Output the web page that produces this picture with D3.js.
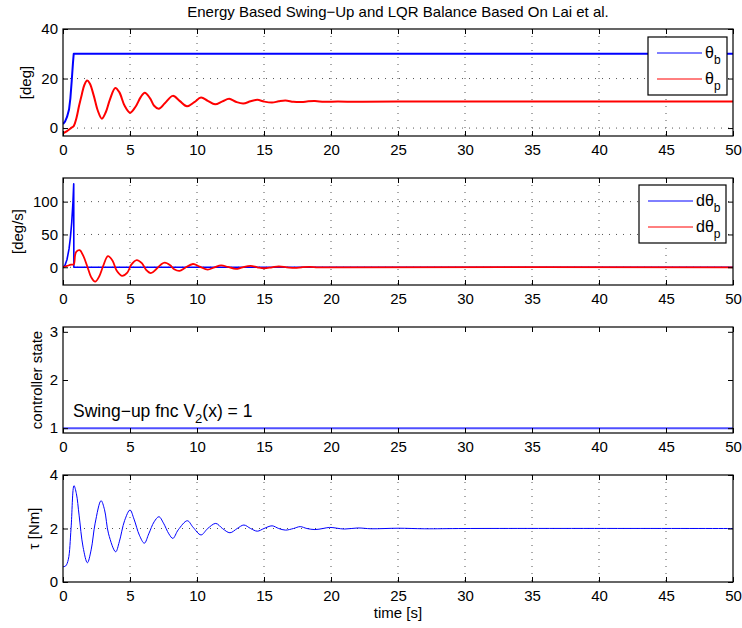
<!DOCTYPE html>
<html>
<head>
<meta charset="utf-8">
<script src="https://cdn.jsdelivr.net/npm/d3@7"></script>
<style>
  body { margin: 0; background: #fff; }
  text { font-family: "Liberation Sans", Arial, Helvetica, sans-serif; fill: #000; }
</style>
</head>
<body>
<svg id="chart" width="742" height="628"></svg>
<script>
// time axis ticks (shared by all four panels)
const timeTicks = [0, 5, 10, 15, 20, 25, 30, 35, 40, 45, 50];

// panel 1: angles [deg]
const thetaB = [[0,1.6],[0.15,2.6],[0.3,4.5],[0.45,7.5],[0.55,12],[0.65,19],[0.74,26],[0.8,30],[50,30]];
const thetaP = [[0,-2.1],[0.3,-1.2],[0.6,0],[0.8,0.8],[1.0,4],[1.2,9],[1.4,13.5],[1.6,17.5],[1.8,19.2],
  [2.0,18],[2.3,13],[2.6,7],[2.9,3.8],[3.2,6.5],[3.5,11.5],[3.9,16.2],[4.2,14.5],[4.6,9],[5.0,6.2],
  [5.4,8.5],[5.8,12.5],[6.1,14.3],[6.5,12],[6.8,9],[7.15,7.8],[7.6,10],[8.2,13],[8.7,11],[9.25,8.8],
  [9.8,10.5],[10.3,12.3],[10.8,11],[11.35,9.6],[11.9,10.8],[12.4,11.8],[12.9,10.6],[13.45,9.9],
  [14.0,10.8],[14.5,11.4],[15.0,10.7],[15.6,10.3],[16.1,10.8],[16.6,11.1],[17.2,10.6],[17.8,10.5],
  [18.3,10.8],[18.8,10.9],[19.5,10.6],[20.5,10.7],[22,10.6],[25,10.7],[50,10.7]];

// panel 2: angular rates [deg/s]
const dThetaB = [[0,0],[0.15,3],[0.3,12],[0.45,28],[0.55,45],[0.65,68],[0.74,98],[0.8,127],[0.81,0],[50,0]];
const dThetaP = [[0,0],[0.3,2],[0.6,4],[0.8,4.5],[0.9,18],[1.0,24],[1.25,26],[1.5,18],[1.8,2],[2.1,-15],
  [2.4,-22],[2.7,-14],[3.0,2],[3.35,17],[3.7,10],[4.0,-5],[4.4,-13],[4.8,-8],[5.1,4],[5.5,11],[5.9,6],
  [6.2,-4],[6.55,-9],[6.95,-3],[7.3,4],[7.6,7],[8.0,3],[8.3,-3],[8.7,-5.5],[9.1,-1],[9.7,5],[10.2,1],
  [10.8,-3.5],[11.3,0],[11.8,3],[12.3,0.5],[12.9,-2.5],[13.4,0],[14,2],[14.5,0],[15,-1.5],[15.6,0],
  [16.1,1.2],[16.7,0],[17.3,-1],[17.8,0],[18.4,0.7],[19,0],[20,-0.3],[21,0],[50,0]];

// panel 3: controller state
const ctrlState = [[0,1],[50,1]];

// panel 4: torque [Nm]
const tau = [[0,0.57],[0.2,0.6],[0.4,0.85],[0.6,2.0],[0.82,3.6],[1.0,3.3],[1.2,2.5],[1.5,1.3],[1.82,0.72],
  [2.1,1.2],[2.4,2.2],[2.84,3.04],[3.1,2.7],[3.4,1.8],[3.93,1.13],[4.2,1.5],[4.6,2.3],[5.0,2.69],
  [5.3,2.35],[5.7,1.75],[6.07,1.45],[6.4,1.8],[6.8,2.25],[7.16,2.44],[7.5,2.2],[7.9,1.8],[8.2,1.63],
  [8.6,1.95],[9.28,2.29],[9.7,2.05],[10.3,1.76],[10.8,2.0],[11.4,2.19],[11.9,2.0],[12.46,1.84],
  [13.0,2.0],[13.5,2.13],[14.0,2.0],[14.5,1.9],[15.0,2.0],[15.6,2.1],[16.1,2.0],[16.6,1.94],[17.2,2.0],
  [17.7,2.07],[18.2,2.0],[18.8,1.96],[19.4,2.0],[19.9,2.04],[21,1.98],[22,2.02],[23,1.99],[25,2.01],
  [27,1.99],[30,2.0],[50,2.0]];

const svg = d3.select("#chart");
const left = 63, right = 733;
const fmt = d3.format("~g");

const x = d3.scaleLinear().domain([0, 50]).range([left, right]);

// one entry per subplot
const panels = [
  { top: 29, bottom: 136, domain: [-3.2, 40], ticks: [0, 20, 40], grid: true,
    label: "[deg]", labelX: 31,
    series: [
      { data: thetaB, color: "#0000ff", width: 2, curve: d3.curveLinear },
      { data: thetaP, color: "#ff0000", width: 2, curve: d3.curveCatmullRom }
    ],
    legend: { x: 648, y: 37, w: 79, h: 58, items: [["θ", "b", "#0000ff"], ["θ", "p", "#ff0000"]] } },
  { top: 178, bottom: 285, domain: [-27, 136], ticks: [0, 50, 100], grid: true,
    label: "[deg/s]", labelX: 23,
    series: [
      { data: dThetaB, color: "#0000ff", width: 1.6, curve: d3.curveLinear },
      { data: dThetaP, color: "#ff0000", width: 1.8, curve: d3.curveCatmullRom }
    ],
    legend: { x: 639, y: 185, w: 87, h: 58, items: [["dθ", "b", "#0000ff"], ["dθ", "p", "#ff0000"]] } },
  { top: 327, bottom: 433, domain: [0.9, 3.1], ticks: [1, 2, 3], grid: false,
    label: "controller state", labelX: 41.5,
    series: [
      { data: ctrlState, color: "#4f4fff", width: 2, curve: d3.curveLinear }
    ] },
  { top: 475, bottom: 582, domain: [0, 4], ticks: [0, 2, 4], grid: true,
    label: "τ [Nm]", labelX: 38.5,
    series: [
      { data: tau, color: "#0000ff", width: 1, curve: d3.curveCatmullRom }
    ] }
];

panels.forEach(function(p, i) {
  const y = d3.scaleLinear().domain(p.domain).range([p.bottom, p.top]);
  const g = svg.append("g");

  g.append("clipPath").attr("id", "clip" + i)
    .append("rect").attr("x", left).attr("y", p.top)
    .attr("width", right - left).attr("height", p.bottom - p.top);

  // dotted grid
  if (p.grid) {
    g.append("g").selectAll("line").data(timeTicks.filter(t => t > 0 && t < 50)).enter()
      .append("line")
      .attr("x1", d => x(d)).attr("x2", d => x(d))
      .attr("y1", p.top).attr("y2", p.bottom)
      .attr("stroke", "#555").attr("stroke-dasharray", "1,6");
    g.append("g").selectAll("line").data(p.ticks.filter(t => y(t) > p.top + 1 && y(t) < p.bottom - 1)).enter()
      .append("line")
      .attr("x1", left).attr("x2", right)
      .attr("y1", d => y(d)).attr("y2", d => y(d))
      .attr("stroke", "#555").attr("stroke-dasharray", "1,6");
  }

  // data lines
  const line = d3.line().x(d => x(d[0])).y(d => y(d[1]));
  p.series.forEach(function(s) {
    g.append("path")
      .datum(s.data)
      .attr("clip-path", "url(#clip" + i + ")")
      .attr("fill", "none")
      .attr("stroke", s.color)
      .attr("stroke-width", s.width)
      .attr("stroke-linejoin", "round")
      .attr("d", line.curve(s.curve));
  });

  // axes with inward ticks, on all four sides
  const tl = 5;
  g.append("g").attr("transform", "translate(0," + p.bottom + ")")
    .call(d3.axisBottom(x).tickValues(timeTicks).tickFormat(fmt).tickSizeInner(-tl).tickSizeOuter(0).tickPadding(8))
    .call(a => a.select(".domain").remove());
  g.append("g").attr("transform", "translate(0," + p.top + ")")
    .call(d3.axisTop(x).tickValues(timeTicks).tickSizeInner(-tl).tickSizeOuter(0).tickFormat(""))
    .call(a => a.select(".domain").remove());
  g.append("g").attr("transform", "translate(" + left + ",0)")
    .call(d3.axisLeft(y).tickValues(p.ticks).tickFormat(fmt).tickSizeInner(-tl).tickSizeOuter(0).tickPadding(5))
    .call(a => a.select(".domain").remove());
  g.append("g").attr("transform", "translate(" + right + ",0)")
    .call(d3.axisRight(y).tickValues(p.ticks).tickSizeInner(-tl).tickSizeOuter(0).tickFormat(""))
    .call(a => a.select(".domain").remove());
  g.selectAll(".tick text").attr("font-size", 15).attr("font-family", null).attr("fill", "#000");
  g.selectAll(".tick line").attr("stroke", "#000");

  g.append("rect")
    .attr("x", left).attr("y", p.top)
    .attr("width", right - left).attr("height", p.bottom - p.top)
    .attr("fill", "none").attr("stroke", "#000").attr("stroke-width", 1.2);

  // y label
  g.append("text")
    .attr("transform", "translate(" + p.labelX + "," + (p.top + p.bottom) / 2 + ") rotate(-90)")
    .attr("text-anchor", "middle")
    .attr("font-size", 15)
    .text(p.label);

  // legend box
  if (p.legend) {
    const L = p.legend;
    g.append("rect").attr("x", L.x).attr("y", L.y).attr("width", L.w).attr("height", L.h)
      .attr("fill", "#fff").attr("stroke", "#000").attr("stroke-width", 1.2);
    L.items.forEach(function(it, k) {
      const ly = L.y + 16 + k * 26;
      g.append("line").attr("x1", L.x + 9).attr("x2", L.x + 54)
        .attr("y1", ly).attr("y2", ly).attr("stroke", it[2]).attr("stroke-width", 1);
      const t = g.append("text").attr("x", L.x + 57).attr("y", ly + 5).attr("font-size", 16);
      t.append("tspan").text(it[0]);
      t.append("tspan").attr("dy", 6).attr("font-size", 12).text(it[1]);
    });
  }
});

// annotation in the controller state panel
const note = svg.append("text").attr("x", 73).attr("y", 417).attr("font-size", 17.5);
note.append("tspan").text("Swing−up fnc V");
note.append("tspan").attr("dy", 6).attr("font-size", 13).text("2");
note.append("tspan").attr("dy", -6).text("(x) = 1");

// title and x label
svg.append("text").attr("x", (left + right) / 2).attr("y", 17)
  .attr("text-anchor", "middle").attr("font-size", 15)
  .text("Energy Based Swing−Up and LQR Balance Based On Lai et al.");
svg.append("text").attr("x", (left + right) / 2).attr("y", 618)
  .attr("text-anchor", "middle").attr("font-size", 15)
  .text("time [s]");
</script>
</body>
</html>
